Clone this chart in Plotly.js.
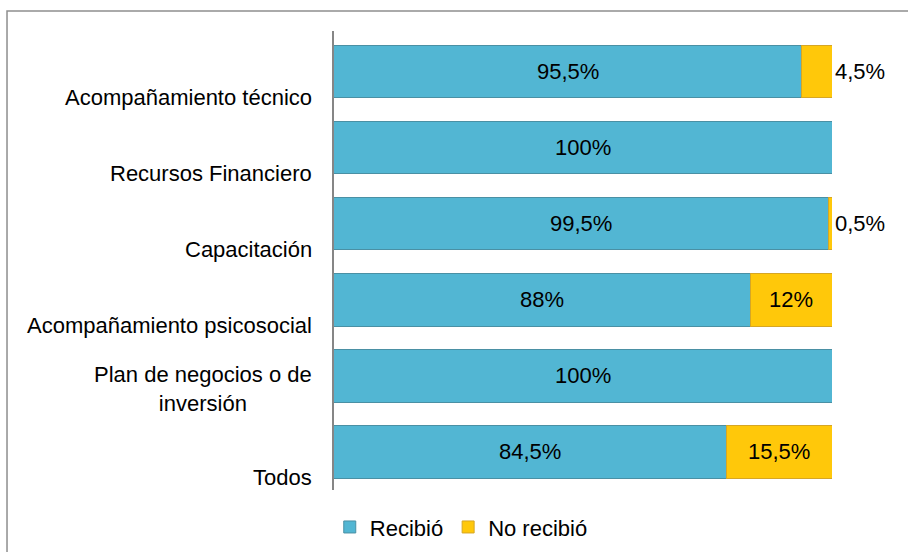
<!DOCTYPE html>
<html>
<head>
<meta charset="utf-8">
<script src="https://cdn.plot.ly/plotly-3.0.1.min.js"></script>
<style>
  html, body { margin: 0; padding: 0; background: #fff; }
  #chart { width: 908px; height: 552px; }
</style>
</head>
<body>
<div id="chart"></div>
<script>
// ---- data ----
const categories = [
  'Acompañamiento técnico',
  'Recursos Financiero',
  'Capacitación',
  'Acompañamiento psicosocial',
  'Plan de negocios o de<br>inversión',
  'Todos'
];
const recibio = [95.5, 100, 99.5, 88, 100, 84.5];
const noRecibio = [4.5, 0, 0.5, 12, 0, 15.5];
const seriesNames = ['Recibió', 'No recibió'];
const xRange = [27, 100];

// ---- helpers ----
const fmt = v => v > 0 ? String(v).replace('.', ',') + '%' : '';
const FONT = 'Liberation Sans, Arial, sans-serif';

const traceRecibio = {
  type: 'bar', orientation: 'h',
  name: seriesNames[0],
  y: categories, x: recibio,
  marker: { color: '#52B6D3', line: { color: '#4A90A4', width: 1 } },
  hoverinfo: 'none'
};
const traceNo = {
  type: 'bar', orientation: 'h',
  name: seriesNames[1],
  y: categories, x: noRecibio,
  text: noRecibio.map(fmt),
  textposition: noRecibio.map(v => v < 10 ? 'outside' : 'inside'),
  insidetextanchor: 'middle', textangle: 0,
  constraintext: 'none', cliponaxis: false,
  textfont: { family: FONT, size: 22, color: '#000' },
  marker: { color: '#FFC80A', line: { color: '#D6A625', width: 1 } },
  hoverinfo: 'none'
};

// labels of the "Recibió" segment, centred on its visible part
const valueAnnotations = recibio.map((v, i) => ({
  xref: 'x', yref: 'y',
  x: (xRange[0] + v) / 2, y: categories[i],
  text: fmt(v), showarrow: false,
  xanchor: 'center', yanchor: 'middle',
  font: { family: FONT, size: 22, color: '#000' }
}));

// category labels placed below bar centre like the reference
const catAnnotations = categories.map(c => {
  const n = c.split('<br>').length;
  return {
    xref: 'paper', yref: 'y', x: 0, y: c,
    text: c, showarrow: false,
    xanchor: 'right', yanchor: 'middle', align: 'center',
    xshift: -20, yshift: -26 + (n - 1) * 12.5,
    font: { family: FONT, size: 22, color: '#000' }
  };
});

const layout = {
  width: 908, height: 552,
  margin: { l: 334, r: 76, t: 31, b: 62, pad: 0 },
  paper_bgcolor: '#fff', plot_bgcolor: '#fff',
  barmode: 'stack', bargap: 0.31,
  font: { family: FONT, size: 22, color: '#000' },
  showlegend: true,
  legend: {
    orientation: 'h',
    xref: 'container', yref: 'container',
    x: 0.508, y: 0.045, xanchor: 'center', yanchor: 'middle',
    font: { family: FONT, size: 22, color: '#000' },
    traceorder: 'normal'
  },
  xaxis: { range: xRange, visible: false, fixedrange: true },
  yaxis: {
    type: 'category', autorange: 'reversed',
    showticklabels: false, ticks: '',
    showline: true, linecolor: '#868686', linewidth: 2,
    showgrid: false, zeroline: false, fixedrange: true
  },
  annotations: valueAnnotations.concat(catAnnotations),
  shapes: [{
    type: 'rect', xref: 'paper', yref: 'paper',
    x0: -0.6566, x1: 1.3, y0: -0.3, y1: 1.0436,
    line: { color: '#8E8E8E', width: 1.5 }, fillcolor: 'rgba(0,0,0,0)',
    layer: 'below'
  }]
};

Plotly.newPlot('chart', [traceRecibio, traceNo], layout, { displayModeBar: false, staticPlot: true });
</script>
</body>
</html>
